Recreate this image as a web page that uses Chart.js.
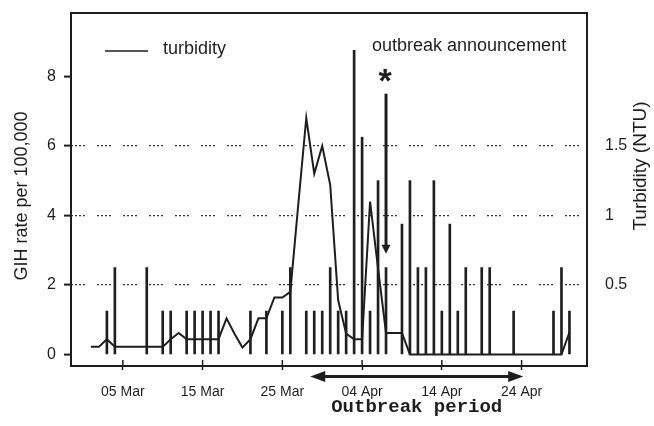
<!DOCTYPE html>
<html>
<head>
<meta charset="utf-8">
<script src="https://cdn.jsdelivr.net/npm/chart.js@4.4.1/dist/chart.umd.min.js"></script>
<style>
  html, body { margin: 0; padding: 0; background: #fff; }
  #wrap { width: 654px; height: 426px; position: relative; }
</style>
</head>
<body>
<div id="wrap"><canvas id="canvas-1"></canvas></div>
<script>
// day 0 = 01 Mar
var tickDays = [4, 14, 24, 34, 44, 54];
var tickLabels = ['05 Mar', '15 Mar', '25 Mar', '04 Apr', '14 Apr', '24 Apr'];

// daily GIH rate per 100,000 (spikes)
var gihDays = [2, 3, 7, 9, 10, 12, 13, 14, 15, 16, 20, 22, 24, 25, 27, 28, 29, 30, 31, 32,
               33, 34, 35, 36, 37, 39, 40, 41, 42, 43, 44, 45, 46, 47, 49, 50, 53, 58, 59, 60];
var gihRate = [1.25, 2.5, 2.5, 1.25, 1.25, 1.25, 1.25, 1.25, 1.25, 1.25, 1.25, 1.25, 1.25, 2.5, 1.25, 1.25, 1.25, 2.5, 1.25, 1.25,
               8.75, 6.25, 1.25, 5, 2.5, 3.75, 5, 2.5, 2.5, 5, 1.25, 3.75, 1.25, 2.5, 2.5, 2.5, 1.25, 1.25, 2.5, 1.25];

// turbidity (NTU)
var turbDays = [0, 1, 2, 3, 4, 5, 6, 7, 8, 9, 10, 11, 12, 13, 14, 15, 16, 17, 18, 19,
                20, 21, 22, 23, 24, 25, 26, 27, 28, 29, 30, 31, 32, 33, 34, 35, 36, 37, 38, 39,
                40, 41, 42, 43, 44, 45, 46, 47, 48, 49, 50, 51, 52, 53, 54, 55, 56, 57, 58, 59, 60];
var turbidity = [0.055, 0.055, 0.11, 0.055, 0.055, 0.055, 0.055, 0.055, 0.055, 0.055,
                 0.11, 0.155, 0.11, 0.11, 0.11, 0.11, 0.11, 0.26, 0.15, 0.05,
                 0.11, 0.26, 0.26, 0.41, 0.41, 0.45, 1.08, 1.7, 1.3, 1.5,
                 1.22, 0.39, 0.15, 0.11, 0.11, 1.1, 0.62, 0.155, 0.155, 0.155,
                 0, 0, 0, 0, 0, 0, 0, 0, 0, 0,
                 0, 0, 0, 0, 0, 0, 0, 0, 0, 0,
                 0.16];

var rateTicks = [0, 2, 4, 6, 8];
var turbTicks = [0.5, 1, 1.5];
var announceDay = 37;
var outbreakStart = 27.5, outbreakEnd = 54.2;

var ink = '#1e1e1e';
var sans = "'Liberation Sans', Arial, sans-serif";

function line(ctx, x1, y1, x2, y2) {
  ctx.beginPath(); ctx.moveTo(x1, y1); ctx.lineTo(x2, y2); ctx.stroke();
}
function head(ctx, tx, ty, bx1, by1, bx2, by2) {
  ctx.beginPath(); ctx.moveTo(tx, ty); ctx.lineTo(bx1, by1); ctx.lineTo(bx2, by2); ctx.closePath(); ctx.fill();
}
function noPad(s) { s.paddingTop = 0; s.paddingBottom = 0; s.paddingLeft = 0; s.paddingRight = 0; }

var notes = {
  id: 'notes',
  afterDatasetsDraw: function(chart) {
    var ctx = chart.ctx, a = chart.chartArea, x = chart.scales.x, y = chart.scales.y;
    ctx.save();
    ctx.strokeStyle = ink; ctx.fillStyle = ink;

    // frame
    ctx.lineWidth = 2;
    ctx.strokeRect(a.left, a.top, a.right - a.left, a.bottom - a.top);
    // inner half of x ticks
    ctx.lineWidth = 1.5;
    tickDays.forEach(function(d) { var px = x.getPixelForValue(d); line(ctx, px, a.bottom, px, a.bottom - 6); });

    // legend
    ctx.lineWidth = 1.5;
    line(ctx, 105, 51, 148, 51);
    ctx.font = '18px ' + sans;
    ctx.textBaseline = 'middle'; ctx.textAlign = 'left';
    ctx.fillText('turbidity', 163, 49);
    ctx.fillText('outbreak announcement', 372, 46);

    // announcement arrow
    var ax = x.getPixelForValue(announceDay);
    ctx.font = 'bold 34px ' + sans;
    ctx.textAlign = 'center'; ctx.textBaseline = 'alphabetic';
    var m = ctx.measureText('*');
    ctx.fillText('*', ax - 1, 75 + (m.actualBoundingBoxAscent - m.actualBoundingBoxDescent) / 2);
    var top = y.getPixelForValue(7.5), tip = y.getPixelForValue(2.9);
    ctx.lineWidth = 3;
    line(ctx, ax, top, ax, tip - 6);
    head(ctx, ax, tip, ax - 4.5, tip - 9, ax + 4.5, tip - 9);

    // outbreak period arrow
    var x1 = x.getPixelForValue(outbreakStart), x2 = x.getPixelForValue(outbreakEnd), yy = 376.5;
    line(ctx, x1 + 10, yy, x2 - 10, yy);
    head(ctx, x1, yy, x1 + 15, yy - 5.5, x1 + 15, yy + 5.5);
    head(ctx, x2, yy, x2 - 15, yy - 5.5, x2 - 15, yy + 5.5);
    ctx.font = "bold 19px 'Liberation Mono', 'Courier New', monospace";
    ctx.textAlign = 'center'; ctx.textBaseline = 'middle';
    ctx.fillText('Outbreak period', (x1 + x2) / 2, 407);

    // axis titles
    ctx.save();
    ctx.font = '18px ' + sans;
    ctx.translate(22, 196); ctx.rotate(-Math.PI / 2);
    ctx.fillText('GIH rate per 100,000', 0, 0);
    ctx.restore();
    ctx.save();
    ctx.font = '19px ' + sans;
    ctx.translate(641, 166); ctx.rotate(-Math.PI / 2);
    ctx.fillText('Turbidity (NTU)', 0, 0);
    ctx.restore();

    ctx.restore();
  }
};

var ctx = document.getElementById('canvas-1');
var chart = new Chart(ctx, {
  type: 'bar',
  data: {
    datasets: [
      {
        type: 'line',
        label: 'turbidity',
        data: turbDays.map(function(d, i) { return {x: d, y: turbidity[i]}; }),
        yAxisID: 'y1',
        borderColor: ink,
        borderWidth: 2,
        pointRadius: 0,
        tension: 0,
        order: 0
      },
      {
        type: 'bar',
        label: 'GIH rate per 100,000',
        data: gihDays.map(function(d, i) { return {x: d, y: gihRate[i]}; }),
        yAxisID: 'y',
        backgroundColor: ink,
        barThickness: 2,
        order: 1
      }
    ]
  },
  options: {
    responsive: true,
    maintainAspectRatio: false,
    animation: false,
    layout: { padding: { top: 13 } },
    plugins: { legend: { display: false }, tooltip: { enabled: false } },
    scales: {
      x: {
        type: 'linear', min: -2.5, max: 62.2, offset: false,
        afterBuildTicks: function(s) { s.ticks = tickDays.map(function(v) { return {value: v}; }); },
        afterFit: function(s) { s.height = 60; noPad(s); },
        ticks: {
          callback: function(v, i) { return tickLabels[i]; },
          font: { family: sans, size: 14 }, color: ink, padding: 14, maxRotation: 0, autoSkip: false
        },
        grid: { offset: false, drawOnChartArea: false, tickLength: 4, tickWidth: 1.5, tickColor: ink },
        border: { display: false }
      },
      y: {
        position: 'left', min: -0.33, max: 9.82,
        afterBuildTicks: function(s) { s.ticks = rateTicks.map(function(v) { return {value: v}; }); },
        afterFit: function(s) { s.width = 71; noPad(s); },
        ticks: { font: { family: sans, size: 16 }, color: ink, padding: 8 },
        grid: {
          color: function(c) { return (c.tick && c.tick.value > 0 && c.tick.value < 8) ? '#333' : 'rgba(0,0,0,0)'; },
          lineWidth: 1.2, tickLength: 7, tickWidth: 2, tickColor: ink
        },
        border: { display: false, dash: [2, 2, 2, 2, 2, 2, 2, 12] }
      },
      y1: {
        position: 'right', min: -0.0825, max: 2.455,
        afterBuildTicks: function(s) { s.ticks = turbTicks.map(function(v) { return {value: v}; }); },
        afterFit: function(s) { s.width = 67; noPad(s); },
        ticks: { font: { family: sans, size: 16 }, color: ink, padding: 18, callback: function(v) { return String(v); } },
        grid: { drawOnChartArea: false, drawTicks: false },
        border: { display: false }
      }
    }
  },
  plugins: [notes]
});
</script>
</body>
</html>
